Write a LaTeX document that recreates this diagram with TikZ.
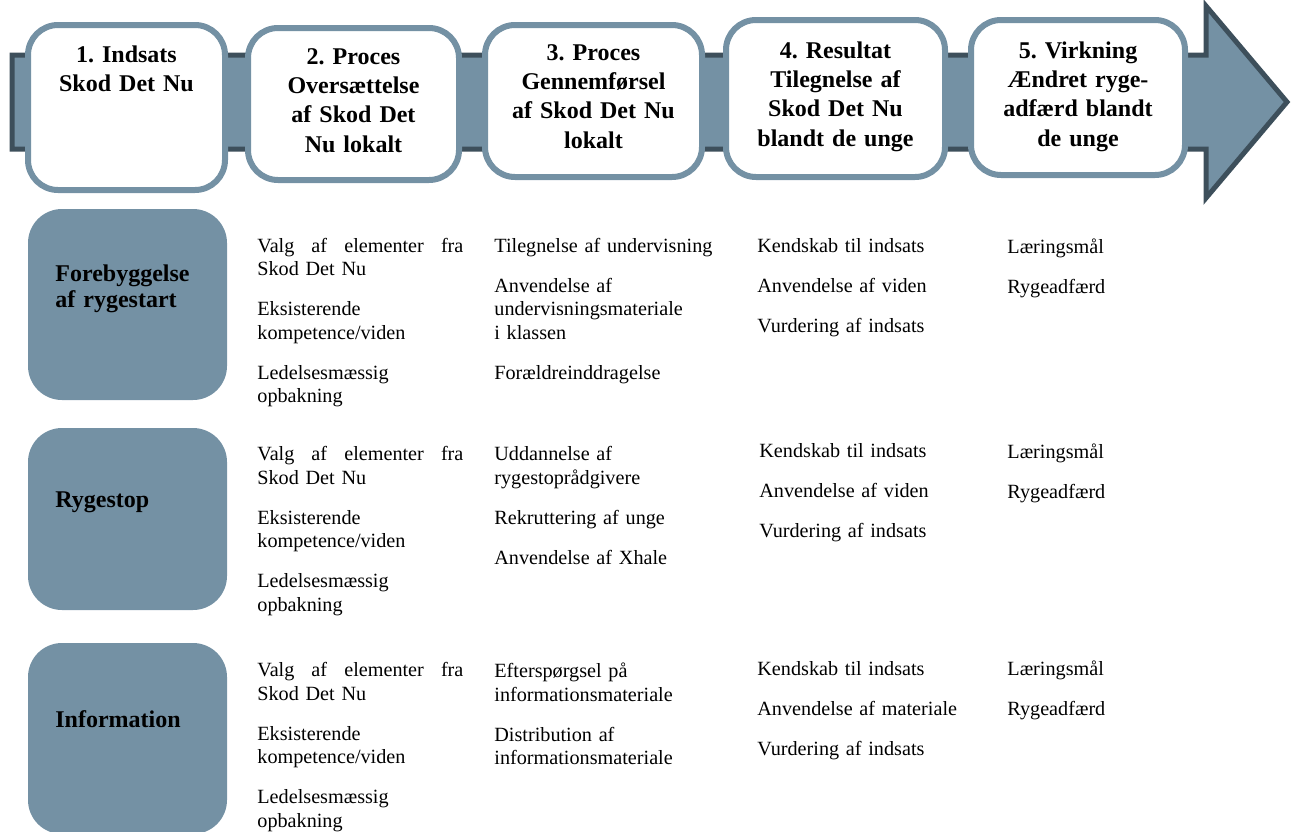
\documentclass[tikz,border=0pt]{standalone}
\usepackage{fontspec}
\setmainfont{Liberation Serif}
\usepackage{xcolor}
\usepackage{tikz}
\usetikzlibrary{positioning}

\definecolor{bandfill}{HTML}{7491A4}
\definecolor{bandline}{HTML}{3D4F5B}
\newcommand{\cellgap}{8.25pt}

\tikzset{
	band/.style={draw=bandline, fill=bandfill, line width=2.5pt, line join=miter},
	phase/.style={draw=bandfill, fill=white, line width=3pt, rounded corners=15pt, inner sep=0pt},
	phasetxt/.style={font=\fontsize{12}{14.7}\selectfont\bfseries, text width=110pt, align=center, inner sep=0pt, anchor=base},
	area/.style={fill=bandfill, rounded corners=17pt, inner sep=0pt, minimum width=99.5pt},
	areatxt/.style={font=\fontsize{12}{13}\selectfont\bfseries, text width=85pt, align=left, inner sep=0pt, anchor=base west},
	cell/.style={font=\fontsize{10.1}{11.75}\selectfont, align=left, inner sep=0pt, anchor=base west}
}

\begin{document}
\begin{tikzpicture}[x=0.5pt, y=-0.5pt]
	\useasboundingbox (0,0) rectangle (1291,831);
	
	\draw[band] (12,55) -- (1206,55) -- (1206,6) -- (1287,102) -- (1206,198) -- (1206,149) -- (12,149) -- cycle;
	
	\node[phase, minimum width=98.5pt, minimum height=82.5pt] (b1) at (126.5,107.5) {};
	\node[phase, minimum width=105.5pt, minimum height=76pt] (b2) at (353.5,104) {};
	\node[phase, minimum width=108.5pt, minimum height=76pt] (b3) at (593.5,101) {};
	\node[phase, minimum width=109.5pt, minimum height=78.5pt] (b4) at (835.5,98.5) {};
	\node[phase, minimum width=107pt, minimum height=77.5pt] (b5) at (1078,97.5) {};
	
	\node[below=20pt of b1.north, phasetxt] (h1) {1.\ Indsats\\Skod Det Nu};
	\node[below=19.5pt of b2.north, phasetxt] (h2) {2.\ Proces\\Oversættelse\\af Skod Det\\Nu lokalt};
	\node[below=19pt of b3.north, phasetxt] (h3) {3.\ Proces\\Gennemførsel\\af Skod Det Nu\\lokalt};
	\node[below=20.5pt of b4.north, phasetxt] (h4) {4.\ Resultat\\Tilegnelse af\\Skod Det Nu\\blandt de unge};
	\node[below=20.5pt of b5.north, phasetxt] (h5) {5.\ Virkning\\Ændret ryge-\\adfærd blandt\\de unge};
	
	\node[area, minimum height=95.5pt] (r1) at (127.5,304.5) {};
	\node[area, minimum height=91pt] (r2) at (127.5,519) {};
	\node[area, minimum height=95.5pt] (r3) at (127.5,738.5) {};
	
	\node[areatxt] (l1) at (55,281) {Forebyggelse\\af rygestart};
	\node[areatxt] (l2) at (55,507) {Rygestop};
	\node[areatxt] (l3) at (55,727) {Information};
	
	\node[cell, text width=103pt] (a1) at (257,252) {Valg\hfill af\hfill elementer\hfill fra\\Skod Det Nu\\[\cellgap]Eksisterende\\kompetence/viden\\[\cellgap]Ledelsesmæssig\\opbakning};
	\node[cell, text width=115pt] (p1) at (494,252) {Tilegnelse af undervisning\\[\cellgap]Anvendelse af\\undervisningsmateriale\\i klassen\\[\cellgap]Forældreinddragelse};
	\node[cell, text width=115pt] (k1) at (757,252) {Kendskab til indsats\\[\cellgap]Anvendelse af viden\\[\cellgap]Vurdering af indsats};
	\node[cell, text width=80pt] (m1) at (1007,253) {Læringsmål\\[\cellgap]Rygeadfærd};
	
	\node[cell, text width=103pt] (a2) at (257,460.5) {Valg\hfill af\hfill elementer\hfill fra\\Skod Det Nu\\[\cellgap]Eksisterende\\kompetence/viden\\[\cellgap]Ledelsesmæssig\\opbakning};
	\node[cell, text width=115pt] (p2) at (494,460.5) {Uddannelse af\\rygestoprådgivere\\[\cellgap]Rekruttering af unge\\[\cellgap]Anvendelse af Xhale};
	\node[cell, text width=115pt] (k2) at (759,457.5) {Kendskab til indsats\\[\cellgap]Anvendelse af viden\\[\cellgap]Vurdering af indsats};
	\node[cell, text width=80pt] (m2) at (1007,458.5) {Læringsmål\\[\cellgap]Rygeadfærd};
	
	\node[cell, text width=103pt] (a3) at (257,676.5) {Valg\hfill af\hfill elementer\hfill fra\\Skod Det Nu\\[\cellgap]Eksisterende\\kompetence/viden\\[\cellgap]Ledelsesmæssig\\opbakning};
	\node[cell, text width=115pt] (p3) at (494,677.5) {Efterspørgsel på\\informationsmateriale\\[\cellgap]Distribution af\\informationsmateriale};
	\node[cell, text width=115pt] (k3) at (757,675.5) {Kendskab til indsats\\[\cellgap]Anvendelse af materiale\\[\cellgap]Vurdering af indsats};
	\node[cell, text width=80pt] (m3) at (1007,675.5) {Læringsmål\\[\cellgap]Rygeadfærd};
\end{tikzpicture}
\end{document}
